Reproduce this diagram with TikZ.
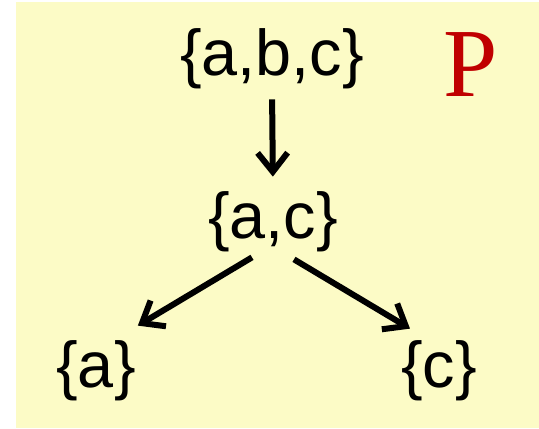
\documentclass[tikz,border=0pt]{standalone}
\usepackage{fontspec}
\setmainfont{Liberation Sans}
\newfontfamily\serifP{Liberation Serif}
\usepackage{xcolor}
\usepackage{tikz}
\usetikzlibrary{arrows.meta,positioning}

\definecolor{padyellow}{RGB}{252,251,198}
\definecolor{pred}{RGB}{192,0,0}

\begin{document}
\begin{tikzpicture}[x=1bp,y=-1bp,
  setnode/.style={inner sep=0pt, font=\fontsize{65}{70}\selectfont},
  arr/.style={line width=6bp, -{Straight Barb[length=19bp,width=30bp,line cap=butt]}}]
\useasboundingbox (0,0) rectangle (539,428);
\fill[padyellow] (16,2) rectangle (539,428);
% the sets
\node[setnode] (abc) at (272,59) {\{a,b,c\}};
\node[setnode] (ac) at (273,222) {\{a,c\}};
\node[setnode] (a) at (96,371) {\{a\}};
\node[setnode] (c) at (439,371) {\{c\}};
\node[pred, inner sep=0pt, font=\serifP\fontsize{98}{100}\selectfont] (p) at (471,65) {P};
% arrows
\draw[arr, shorten <=10bp, shorten >=15bp] (abc.south) -- (ac.north);
\draw[arr] ([xshift=-21bp,yshift=-5bp]ac.south) -- ([xshift=2bp,yshift=15bp]a.north east);
\draw[arr] ([xshift=21bp,yshift=-7bp]ac.south) -- ([xshift=9bp,yshift=12bp]c.north west);
\end{tikzpicture}
\end{document}
